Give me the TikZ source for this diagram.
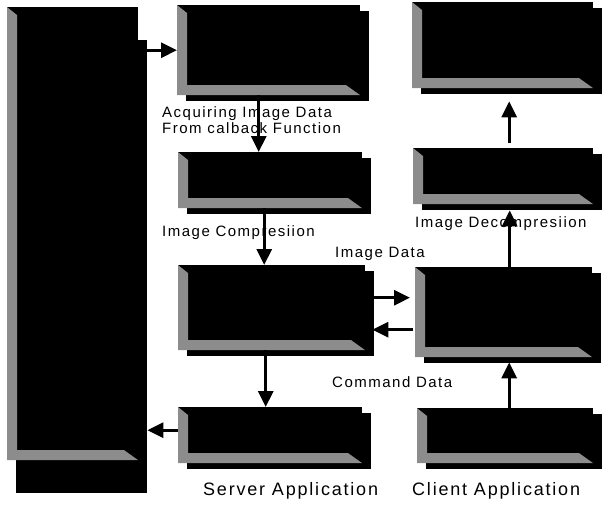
\documentclass[tikz,border=0pt]{standalone}
\usepackage{fontspec}
\setmainfont{Liberation Sans}[LetterSpace=10]
\usetikzlibrary{arrows.meta,shadows,calc}
\definecolor{bevelgray}{gray}{0.55}
\tikzset{
  bevel/.style={path picture={
    \fill[bevelgray] (path picture bounding box.north west) -- ++(10pt,-8pt)
      |- ([shift={(-14pt,10pt)}]path picture bounding box.south east)
      -- (path picture bounding box.south east)
      -- (path picture bounding box.south west) -- cycle;
  }}
}
\begin{document}
\begin{tikzpicture}
		[x=1pt,y=-1pt,
		mybox/.style={rectangle,fill=black,inner sep=0pt,anchor=north west,
			general shadow={fill=black,shadow xshift=9pt,shadow yshift=-#1},bevel},
		mybox/.default=6pt,
		boxsize/.style 2 args={minimum width=#1,minimum height=#2},
		lbl/.style={inner sep=0pt,font=\fontsize{15}{16}\selectfont},
		title/.style={inner sep=0pt,font=\fontsize{18}{20}\selectfont},
		arr/.style={line width=3pt,-{Triangle[length=16pt,width=15pt]}}]
		\useasboundingbox (0,0) rectangle (603,504);
		% server side
		\node[mybox=33pt,boxsize={131}{453}] (sys) at (7,7) {};
		\node[mybox,boxsize={183}{90}] (srv1) at (177,5) {};
		\node[mybox,boxsize={184}{56}] (srv2) at (178,152) {};
		\node[mybox,boxsize={187}{85}] (srv3) at (178,265) {};
		\node[mybox,boxsize={184}{56}] (srv4) at (178,407) {};
		% client side
		\node[mybox,boxsize={181}{86}] (cli1) at (412,2) {};
		\node[mybox,boxsize={180}{56}] (cli2) at (413,148) {};
		\node[mybox,boxsize={177}{90}] (cli3) at (415,267) {};
		\node[mybox,boxsize={176}{55}] (cli4) at (417,408) {};
		% labels
		\node[lbl,anchor=north west,align=left] (acq) at (162,106) {Acquiring Image Data\\From calback Function};
		\node[lbl,anchor=base west] (comp) at (162,236) {Image Compresiion};
		\node[lbl,anchor=base west] (decomp) at (415,227) {Image Decompresiion};
		\node[lbl,anchor=base west] (imgdata) at (335,257) {Image Data};
		\node[lbl,anchor=base west] (cmddata) at (332,387) {Command Data};
		\node[title,anchor=base west] (server) at (203,495) {Server Application};
		\node[title,anchor=base west] (client) at (412,495) {Client Application};
		% arrows
		\draw[arr] (sys.east |- srv1.west) -- (srv1.west);
		\draw[arr] ([xshift=-10pt]srv1.south) -- ([xshift=-10pt]srv1.south |- srv2.north);
		\draw[arr] ([xshift=-6pt]srv2.south) -- ([xshift=-6pt]srv2.south |- srv3.north);
		\draw[arr] ([xshift=-6pt]srv3.south) -- ([xshift=-6pt]srv3.south |- srv4.north);
		\draw[arr] ($(srv4.west)+(0pt,5pt)$) -- ($(srv4.west -| sys.east)+(9pt,5pt)$);
		\draw[arr] ($(srv3.east)+(9pt,10pt)$) -- ($(srv3.east -| cli3.west)+(-5pt,10pt)$);
		\draw[arr] ($(srv3.east -| cli3.west)+(-2pt,-22pt)$) -- ($(srv3.east)+(7pt,-22pt)$);
		\draw[arr] ([xshift=4pt]cli4.north) -- ($(cli4.north |- cli3.south)+(4pt,-5pt)$);
		\draw[arr] ([xshift=6pt]cli3.north) -- ($(cli3.north |- cli2.south)+(6pt,-6pt)$);
		\draw[arr] ($(cli2.north)+(6pt,5pt)$) -- ($(cli2.north |- cli1.south)+(6pt,-13pt)$);
	\end{tikzpicture}
\end{document}
